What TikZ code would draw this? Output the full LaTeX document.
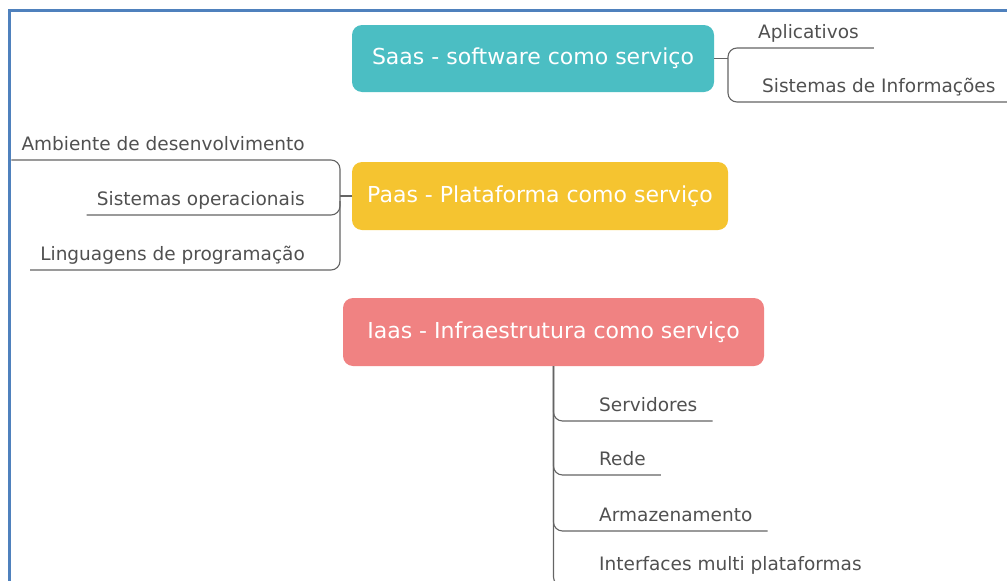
\documentclass[tikz,border=0pt]{standalone}
\usepackage{fontspec}
\setmainfont{DejaVu Sans}
\usetikzlibrary{calc}

\definecolor{framecol}{RGB}{79,129,189}
\definecolor{saascol}{RGB}{75,190,195}
\definecolor{paascol}{RGB}{245,196,48}
\definecolor{iaascol}{RGB}{240,130,130}
\definecolor{textgray}{RGB}{80,80,80}
\definecolor{linegray}{RGB}{100,100,100}

\tikzset{
  topic/.style={rounded corners=10pt, text=white, inner sep=0pt,
    font=\fontsize{22}{26}\selectfont},
  leaf/.style={inner sep=0pt, text=textgray, text depth=9pt,
    font=\fontsize{18.5}{22}\selectfont},
  link/.style={draw=linegray, line width=1.1pt, rounded corners=9pt},
}

\begin{document}
\begin{tikzpicture}[x=1pt, y=-1pt]
  \useasboundingbox (0,0) rectangle (1007,581);
  \clip (0,0) rectangle (1007,581);

  % page frame
  \draw[framecol, line width=2.5pt] (9.5,10.5) rectangle (1030,610);

  % main topics
  \node[topic, fill=saascol, minimum width=362pt, minimum height=67pt]
    (saas) at (533,58.5) {Saas - software como serviço};
  \node[topic, fill=paascol, minimum width=376pt, minimum height=68pt]
    (paas) at (540,196) {Paas - Plataforma como serviço};
  \node[topic, fill=iaascol, minimum width=421pt, minimum height=68pt]
    (iaas) at (553.5,332) {Iaas - Infraestrutura como serviço};

  % SaaS subtopics
  \coordinate (sj) at (728,58.5);
  \node[leaf, anchor=south west] (apl) at (758,48) {Aplicativos};
  \node[leaf, anchor=south west] (sis) at (762,102) {Sistemas de Informações};
  \draw[link] (saas.east) -- (sj);
  \draw[link] ($(apl.south east)+(15,0)$) -- (apl.south -| sj)
    -- (sis.south -| sj) -- ($(sis.south east)+(15,0)$);

  % PaaS subtopics
  \coordinate (pj) at (340,196);
  \node[leaf, anchor=south east] (amb) at (305,160) {Ambiente de desenvolvimento};
  \node[leaf, anchor=south east] (sop) at (305,215) {Sistemas operacionais};
  \node[leaf, anchor=south east] (lin) at (305,270) {Linguagens de programação};
  \draw[link] (paas.west) -- (pj);
  \draw[link] ($(amb.south west)+(-10,0)$) -- (amb.south -| pj)
    -- (lin.south -| pj) -- ($(lin.south west)+(-10,0)$);
  \draw[link] ($(sop.south west)+(-10,0)$) -- (sop.south -| pj)
    -- ($(sop.south -| pj)+(0,-14)$);

  % IaaS subtopics
  \node[leaf, anchor=south west] (ser) at (599,421) {Servidores};
  \node[leaf, anchor=south west] (red) at (599,475) {Rede};
  \node[leaf, anchor=south west] (arm) at (599,531) {Armazenamento};
  \node[leaf, anchor=south west, text depth=15pt] (int) at (599,586)
    {Interfaces multi plataformas};
  \foreach \n in {ser,red,arm,int}
    \draw[link] (iaas.south) -- (\n.south -| iaas.south)
      -- ($(\n.south east)+(15,0)$);
\end{tikzpicture}
\end{document}
